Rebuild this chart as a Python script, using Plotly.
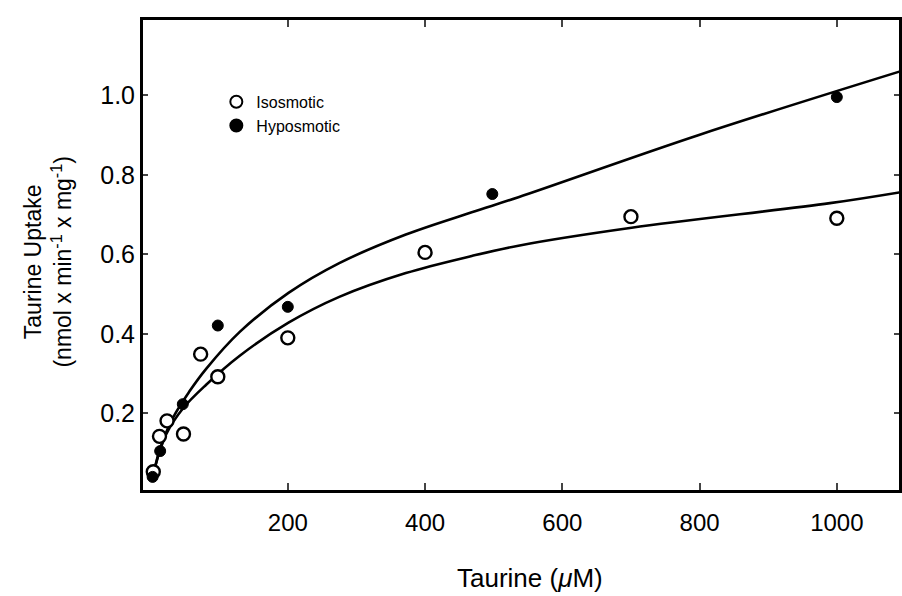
import plotly.graph_objects as go

# Data points
iso_x = [4, 13, 24, 48, 73, 98, 200, 400, 700, 1000]
iso_y = [0.053, 0.142, 0.181, 0.148, 0.349, 0.292, 0.390, 0.605, 0.695, 0.691]

hypo_x = [3, 14, 47, 98, 200, 498, 1000]
hypo_y = [0.040, 0.105, 0.223, 0.421, 0.468, 0.752, 0.996]

# Fitted curves
hypo_curve_x = [2, 6, 14, 33, 57, 81, 130, 201, 275, 372, 468, 536, 798, 1091]
hypo_curve_y = [0.030, 0.060, 0.112, 0.190, 0.256, 0.312, 0.405, 0.503, 0.578, 0.650, 0.706, 0.744, 0.900, 1.060]

iso_curve_x = [2, 6, 23, 48, 81, 130, 201, 275, 372, 468, 536, 701, 990, 1091]
iso_curve_y = [0.030, 0.062, 0.148, 0.214, 0.272, 0.345, 0.428, 0.493, 0.553, 0.596, 0.622, 0.667, 0.729, 0.756]

x_ticks = [200, 400, 600, 800, 1000]
y_ticks = [0.2, 0.4, 0.6, 0.8, 1.0]
y_ticklabels = ["0.2", "0.4", "0.6", "0.8", "1.0"]

FONT = "Liberation Sans, Arial, sans-serif"

fig = go.Figure()
fig.add_trace(go.Scatter(x=hypo_curve_x, y=hypo_curve_y, mode="lines",
                         line=dict(color="black", width=2.6, shape="spline", smoothing=1.0),
                         showlegend=False, hoverinfo="skip"))
fig.add_trace(go.Scatter(x=iso_curve_x, y=iso_curve_y, mode="lines",
                         line=dict(color="black", width=2.6, shape="spline", smoothing=1.0),
                         showlegend=False, hoverinfo="skip"))
fig.add_trace(go.Scatter(x=iso_x, y=iso_y, mode="markers", name="Isosmotic",
                         marker=dict(symbol="circle", size=13, color="white",
                                     line=dict(color="black", width=2.4))))
fig.add_trace(go.Scatter(x=hypo_x, y=hypo_y, mode="markers", name="Hyposmotic",
                         marker=dict(symbol="circle", size=11, color="black",
                                     line=dict(color="black", width=1))))

fig.update_layout(
    width=902, height=596,
    margin=dict(l=143, r=0, t=20, b=106),
    paper_bgcolor="white", plot_bgcolor="white",
    font=dict(family=FONT, color="black", size=22),
    showlegend=True,
    legend=dict(x=0.097, y=0.862, xanchor="left", yanchor="top",
                bgcolor="rgba(0,0,0,0)", font=dict(size=16, family=FONT),
                tracegroupgap=0, itemsizing="constant"),
    annotations=[
        dict(text="Taurine Uptake<br>(nmol x min<sup>-1</sup> x mg<sup>-1</sup>)",
             xref="paper", yref="paper", x=-0.125, y=0.485,
             xanchor="center", yanchor="middle", textangle=-90, showarrow=False,
             font=dict(size=23, family=FONT, color="black")),
        dict(text="Taurine (<i>μ</i>M)",
             xref="paper", yref="paper", x=0.5125, y=-0.187,
             xanchor="center", yanchor="middle", showarrow=False,
             font=dict(size=26, family=FONT, color="black")),
    ],
)
fig.update_xaxes(
    range=[-11, 1090.6], tickvals=x_ticks, ticks="inside", ticklen=7, tickwidth=2,
    showline=True, linecolor="black", linewidth=2.5, mirror="ticks",
    showgrid=False, zeroline=False, tickfont=dict(size=24, family=FONT),
    ticklabelstandoff=9,
)
fig.update_yaxes(
    range=[0.007, 1.19], tickvals=y_ticks, ticktext=y_ticklabels, ticks="inside",
    ticklen=5, tickwidth=2,
    showline=True, linecolor="black", linewidth=3, mirror="ticks",
    showgrid=False, zeroline=False, tickfont=dict(size=25, family=FONT),
)

fig.write_html("out.html")
